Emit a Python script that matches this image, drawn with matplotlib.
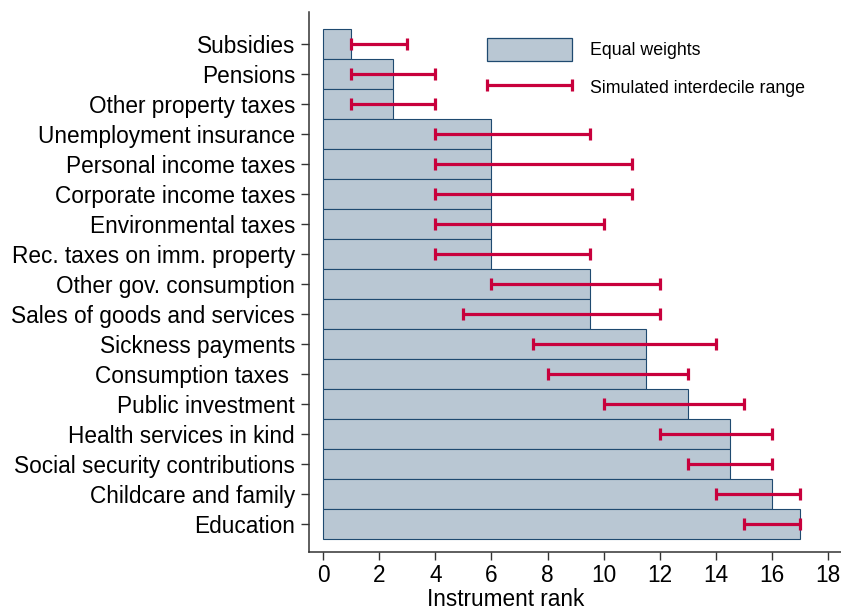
import numpy as np
import matplotlib
matplotlib.use("Agg")
import matplotlib.pyplot as plt
from matplotlib.patches import Patch
from matplotlib.legend_handler import HandlerErrorbar

plt.rcParams['font.family'] = ['Liberation Sans', 'DejaVu Sans']

categories = ["Subsidies", "Pensions", "Other property taxes", "Unemployment insurance",
              "Personal income taxes", "Corporate income taxes", "Environmental taxes",
              "Rec. taxes on imm. property", "Other gov. consumption",
              "Sales of goods and services", "Sickness payments", "Consumption taxes ",
              "Public investment", "Health services in kind",
              "Social security contributions", "Childcare and family", "Education"]
equal_weights = [1, 2.5, 2.5, 6, 6, 6, 6, 6, 9.5, 9.5, 11.5, 11.5, 13, 14.5, 14.5, 16, 17]
range_low = [1, 1, 1, 4, 4, 4, 4, 4, 6, 5, 7.5, 8, 10, 12, 13, 14, 15]
range_high = [3, 4, 4, 9.5, 11, 11, 10, 9.5, 12, 12, 14, 13, 15, 16, 16, 17, 17]
xticks = [0, 2, 4, 6, 8, 10, 12, 14, 16, 18]

W, H = 841, 607
fig = plt.figure(figsize=(W / 100, H / 100), dpi=100)
ax = fig.add_axes([309 / W, 1 - 552 / H, (W - 309) / W, (552 - 12) / H])

bar_fill = "#b9c7d3"
bar_edge = "#1f4a70"
err_col = "#c8003c"

y = np.arange(len(categories))
ax.barh(y, equal_weights, height=1.0, left=0, color=bar_fill, edgecolor=bar_edge,
        linewidth=0.8, label="Equal weights", zorder=2)
lo = np.array(range_low)
hi = np.array(range_high)
eb = ax.errorbar((lo + hi) / 2, y, xerr=(hi - lo) / 2, fmt='none', ecolor=err_col,
                 elinewidth=2.3, capsize=4.6, capthick=2.3, zorder=3,
                 label="Simulated interdecile range")

ax.set_ylim(len(categories) - 1 + 0.93, -1.07)
ax.set_xlim(-0.5, 18.46)
ax.set_yticks(y)
ax.set_yticklabels(categories, fontsize=16.3)
ax.set_xticks(xticks)
ax.set_xticklabels([str(t) for t in xticks], fontsize=16.3)
ax.tick_params(axis='y', length=6, width=1.0, pad=4, color="#333333")
ax.tick_params(axis='x', length=5.8, width=1.0, pad=3, color="#333333")

for s in ['top', 'right']:
    ax.spines[s].set_visible(False)
for s in ['left', 'bottom']:
    ax.spines[s].set_color("#333333")
    ax.spines[s].set_linewidth(1.1)

ax.set_xlabel("Instrument rank", fontsize=16.3)
ax.xaxis.set_label_coords(197 / 532, -0.066)

fs = 12.8
hl = 61 / fs
handles = [Patch(facecolor=bar_fill, edgecolor=bar_edge, linewidth=0.9), eb]
leg = ax.legend(handles, ["Equal weights", "Simulated interdecile range"],
                loc='upper left', bbox_to_anchor=(487 / W, 1 - 38 / H),
                bbox_transform=fig.transFigure, frameon=False, fontsize=fs,
                handlelength=hl, handleheight=1.6, handletextpad=1.0,
                labelspacing=0.85, borderpad=0, borderaxespad=0,
                handler_map={type(eb): HandlerErrorbar(xerr_size=hl / 2)})

fig.savefig("out.png", dpi=100)
